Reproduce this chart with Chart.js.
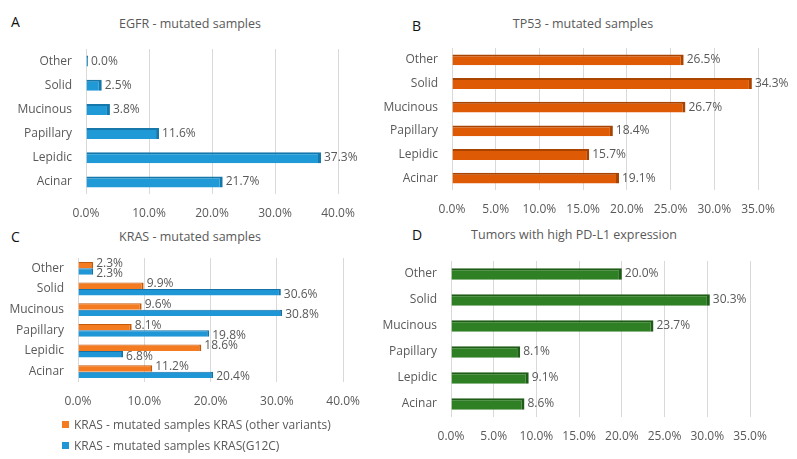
<!DOCTYPE html>
<html>
<head>
<meta charset="utf-8">
<script src="https://cdn.jsdelivr.net/npm/chart.js@4.4.0/dist/chart.umd.min.js"></script>
<style>
  body { margin: 0; background: #fff; }
  #wrap { position: relative; width: 797px; height: 459px; font-family: "Open Sans", sans-serif; color: #595959; }
  canvas { position: absolute; }
  .lbl { position: absolute; font-size: 14px; color: #111; }
  .ttl { position: absolute; font-size: 12.5px; transform: translateX(-50%); white-space: nowrap; }
  .leg { position: absolute; left: 62px; font-size: 12px; white-space: nowrap; }
  .leg span { display: inline-block; width: 7px; height: 7px; margin-right: 5px; vertical-align: 1px; }
</style>
</head>
<body>
<div id="wrap">
  <div class="lbl" style="left:11px;top:12px">A</div>
  <div class="lbl" style="left:412px;top:16px">B</div>
  <div class="lbl" style="left:11px;top:227px">C</div>
  <div class="lbl" style="left:412px;top:225px">D</div>
  <div class="ttl" style="left:190px;top:15px">EGFR - mutated samples</div>
  <div class="ttl" style="left:583px;top:15px">TP53 - mutated samples</div>
  <div class="ttl" style="left:190px;top:228px">KRAS - mutated samples</div>
  <div class="ttl" style="left:574px;top:226px">Tumors with high PD-L1 expression</div>
  <canvas id="cA" width="372" height="230" style="left:0;top:0"></canvas>
  <canvas id="cB" width="425" height="230" style="left:372px;top:0"></canvas>
  <canvas id="cC" width="372" height="229" style="left:0;top:230px"></canvas>
  <canvas id="cD" width="425" height="229" style="left:372px;top:230px"></canvas>
  <div class="leg" id="leg1" style="top:416px"></div>
  <div class="leg" id="leg2" style="top:437px"></div>
</div>
<script>
// categories top to bottom
const categories = ["Other", "Solid", "Mucinous", "Papillary", "Lepidic", "Acinar"];

// valori (%)
const egfr = [0.0, 2.5, 3.8, 11.6, 37.3, 21.7];
const tp53 = [26.5, 34.3, 26.7, 18.4, 15.7, 19.1];
const krasOther = [2.3, 9.9, 9.6, 8.1, 18.6, 11.2];
const krasG12C = [2.3, 30.6, 30.8, 19.8, 6.8, 20.4];
const pdl1 = [20.0, 30.3, 23.7, 8.1, 9.1, 8.6];

const ticksAC = [0, 10, 20, 30, 40];
const ticksBD = [0, 5, 10, 15, 20, 25, 30, 35];

const grey = "#595959";
const font = { family: "Open Sans", size: 12 };

// label di fianco alle barre
const barLabels = {
    id: "barLabels",
    afterDatasetsDraw(chart, args, opts) {
        const ctx = chart.ctx;
        ctx.save();
        ctx.font = "12px 'Open Sans'";
        ctx.fillStyle = grey;
        ctx.textBaseline = "middle";
        chart.data.datasets.forEach((ds, i) => {
            const meta = chart.getDatasetMeta(i);
            const dy = (opts.offsets || [])[i] || 0;
            meta.data.forEach((el, j) => {
                ctx.fillText(ds.data[j].toFixed(1) + "%", el.x + 3, el.y + dy);
            });
        });
        ctx.restore();
    }
};

function panel(id, datasets, cfg) {
    const cv = document.getElementById(id);
    const W = cv.width, H = cv.height;
    new Chart(cv, {
        type: "bar",
        data: { labels: categories, datasets: datasets },
        options: {
            responsive: false,
            animation: false,
            indexAxis: "y",
            layout: { padding: { left: 0, top: cfg.top, right: W - cfg.right, bottom: 0 } },
            plugins: {
                legend: { display: false },
                tooltip: { enabled: false },
                barLabels: { offsets: cfg.offsets }
            },
            scales: {
                x: {
                    min: 0,
                    max: cfg.ticks[cfg.ticks.length - 1],
                    afterBuildTicks: s => { s.ticks = cfg.ticks.map(v => ({ value: v })); },
                    grid: { color: "#d9d9d9", drawTicks: false },
                    border: { display: false },
                    ticks: { color: grey, font: font, padding: 12, callback: v => v.toFixed(1) + "%" },
                    afterFit: s => { s.height = H - cfg.bottom; }
                },
                y: {
                    grid: { display: false, drawTicks: false },
                    border: { display: false },
                    ticks: { color: grey, font: font, padding: 14 },
                    afterFit: s => { s.width = cfg.left; }
                }
            }
        },
        plugins: [barLabels]
    });
}

function ds(label, data, fill, edge, extra) {
    return Object.assign({
        label: label,
        data: data,
        backgroundColor: fill,
        borderColor: edge,
        borderWidth: { top: 2, right: 3, bottom: 0, left: 0 },
        borderSkipped: false
    }, extra || {});
}

panel("cA", [ds("EGFR - mutated samples", egfr, "#1f9ad6", "#1677ab",
    { barPercentage: 0.76, categoryPercentage: 0.6, minBarLength: 2 })],
    { left: 86, right: 338, top: 49, bottom: 194, ticks: ticksAC });

panel("cB", [ds("TP53 - mutated samples", tp53, "#df5a04", "#a84300",
    { barPercentage: 0.76, categoryPercentage: 0.6 })],
    { left: 80, right: 386, top: 48, bottom: 190, ticks: ticksBD });

panel("cC", [
    ds("KRAS - mutated samples KRAS (other variants)", krasOther, "#f47b20", "#c25a0c",
        { barPercentage: 1, categoryPercentage: 0.62, borderWidth: { top: 1, right: 2, bottom: 0, left: 0 } }),
    ds("KRAS - mutated samples KRAS(G12C)", krasG12C, "#1f96d6", "#1672a6",
        { barPercentage: 1, categoryPercentage: 0.62, borderWidth: { top: 1, right: 2, bottom: 0, left: 0 } })
], { left: 78, right: 348, top: 28, bottom: 152, ticks: ticksAC, offsets: [-2, 2] });

panel("cD", [ds("Tumors with high PD-L1 expression", pdl1, "#2f7f25", "#1f5c17",
    { barPercentage: 0.74, categoryPercentage: 0.6 })],
    { left: 79, right: 378, top: 31, bottom: 187, ticks: ticksBD });

// legenda del pannello C
const legC = [["leg1", "#f47b20", "KRAS - mutated samples KRAS (other variants)"],
              ["leg2", "#1f96d6", "KRAS - mutated samples KRAS(G12C)"]];
legC.forEach(([id, col, txt]) => {
    const el = document.getElementById(id);
    const sw = document.createElement("span");
    sw.style.background = col;
    el.appendChild(sw);
    el.appendChild(document.createTextNode(txt));
});
</script>
</body>
</html>
